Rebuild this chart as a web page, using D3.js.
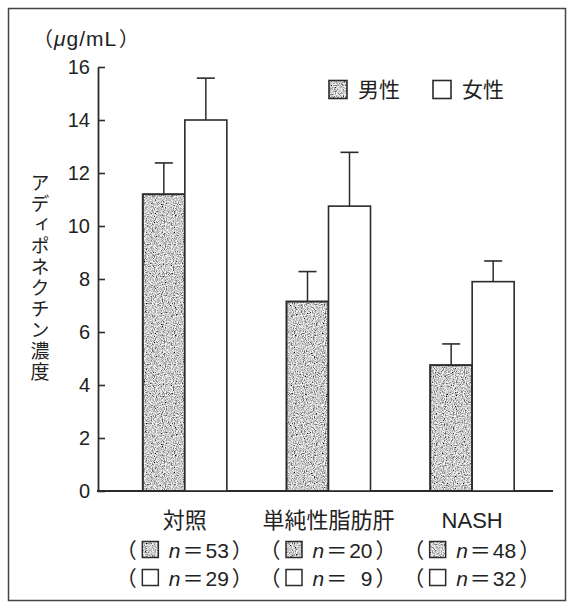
<!DOCTYPE html>
<html>
<head>
<meta charset="utf-8">
<script src="https://cdn.jsdelivr.net/npm/d3@7"></script>
<style>
  html, body { margin: 0; padding: 0; background: #fff; }
  svg { display: block; }
  text { font-family: "Liberation Sans", Arial, "Noto Sans CJK JP", sans-serif; fill: #222; }
  .cjk { font-family: "Noto Sans CJK JP", sans-serif; }
</style>
</head>
<body>
<div id="chart"></div>
<script>
// values (upper error bar = mean + SD)
const categories = ["対照", "単純性脂肪肝", "NASH"];
const sexes = ["男性", "女性"];
const maleMean = [11.2, 7.15, 4.75];
const maleSD = [1.18, 1.13, 0.8];
const femaleMean = [14.0, 10.75, 7.9];
const femaleSD = [1.58, 2.03, 0.78];
const maleN = [53, 20, 48];
const femaleN = [29, 9, 32];
const yTicks = [0, 2, 4, 6, 8, 10, 12, 14, 16];

const width = 567, height = 604;
const ink = "#2b2b2b";

const svg = d3.select("#chart").append("svg")
  .attr("width", width)
  .attr("height", height);

// stipple texture for the male bars
const defs = svg.append("defs");
const noise = defs.append("filter")
  .attr("id", "grain")
  .attr("x", 0).attr("y", 0).attr("width", "100%").attr("height", "100%");
noise.append("feTurbulence")
  .attr("type", "fractalNoise")
  .attr("baseFrequency", 0.9)
  .attr("numOctaves", 2)
  .attr("seed", 3);
noise.append("feColorMatrix")
  .attr("type", "matrix")
  .attr("values", "2.0 0 0 0 -0.4  2.0 0 0 0 -0.4  2.0 0 0 0 -0.4  0 0 0 0 1");
const pat = defs.append("pattern")
  .attr("id", "stipple")
  .attr("patternUnits", "userSpaceOnUse")
  .attr("width", 120).attr("height", 120);
pat.append("rect")
  .attr("width", 120).attr("height", 120)
  .attr("fill", "#999")
  .attr("filter", "url(#grain)");

// outer frame
svg.append("rect")
  .attr("x", 8.5).attr("y", 8.5)
  .attr("width", 557).attr("height", 592)
  .attr("fill", "none")
  .attr("stroke", "#444")
  .attr("stroke-width", 1.5);

const y = d3.scaleLinear().domain([0, 16]).range([491, 67]);
const x = d3.scaleBand().domain(categories).range([113, 544]).padding(0);
const xSex = d3.scaleBand().domain(sexes).range([0, x.bandwidth()])
  .paddingInner(0).paddingOuter(0.71);

// y axis, ticks pointing inward
const yAxis = svg.append("g")
  .attr("transform", "translate(98,0)")
  .call(d3.axisLeft(y).tickValues(yTicks).tickSize(-7).tickSizeOuter(0).tickPadding(8));
yAxis.select(".domain").attr("stroke", ink).attr("stroke-width", 1.8);
yAxis.selectAll(".tick line").attr("stroke", ink).attr("stroke-width", 1.6);
yAxis.selectAll(".tick text")
  .attr("fill", "#222")
  .style("font-size", "20px")
  .style("font-family", "'Liberation Sans', Arial, sans-serif");

// baseline
svg.append("line")
  .attr("x1", 97).attr("x2", 553)
  .attr("y1", y(0)).attr("y2", y(0))
  .attr("stroke", ink).attr("stroke-width", 2.2);

// unit label
svg.append("text").attr("class", "cjk")
  .attr("x", 53).attr("y", 46)
  .attr("text-anchor", "end")
  .style("font-size", "20px")
  .text("（");
const unit = svg.append("text")
  .attr("x", 54).attr("y", 46)
  .style("font-size", "21px")
  .style("letter-spacing", "1px");
unit.append("tspan").style("font-style", "italic").text("μ");
unit.append("tspan").text("g/mL");
svg.append("text").attr("class", "cjk")
  .attr("x", 119).attr("y", 46)
  .style("font-size", "20px")
  .text("）");

// y axis title, vertical
svg.append("text")
  .attr("x", 40).attr("y", 173)
  .style("writing-mode", "vertical-rl")
  .style("font-size", "19px")
  .style("letter-spacing", "2px")
  .style("font-family", "'Noto Sans CJK JP', sans-serif")
  .text("アディポネクチン濃度");

// bars
const rows = categories.map((c, i) => [
  { cat: c, sex: "男性", mean: maleMean[i], sd: maleSD[i] },
  { cat: c, sex: "女性", mean: femaleMean[i], sd: femaleSD[i] }
]).flat();

const bars = svg.append("g");
bars.selectAll("line.err")
  .data(rows)
  .enter()
  .append("line")
  .attr("class", "err")
  .attr("x1", d => x(d.cat) + xSex(d.sex) + xSex.bandwidth() / 2)
  .attr("x2", d => x(d.cat) + xSex(d.sex) + xSex.bandwidth() / 2)
  .attr("y1", d => y(d.mean))
  .attr("y2", d => y(d.mean + d.sd))
  .attr("stroke", ink).attr("stroke-width", 1.5);
bars.selectAll("line.cap")
  .data(rows)
  .enter()
  .append("line")
  .attr("class", "cap")
  .attr("x1", d => x(d.cat) + xSex(d.sex) + xSex.bandwidth() / 2 - 9)
  .attr("x2", d => x(d.cat) + xSex(d.sex) + xSex.bandwidth() / 2 + 9)
  .attr("y1", d => y(d.mean + d.sd))
  .attr("y2", d => y(d.mean + d.sd))
  .attr("stroke", ink).attr("stroke-width", 1.6);
bars.selectAll("rect")
  .data(rows)
  .enter()
  .append("rect")
  .attr("x", d => x(d.cat) + xSex(d.sex))
  .attr("y", d => y(d.mean))
  .attr("width", xSex.bandwidth())
  .attr("height", d => y(0) - y(d.mean))
  .attr("fill", d => d.sex === "男性" ? "url(#stipple)" : "#fff")
  .attr("stroke", ink)
  .attr("stroke-width", d => d.sex === "男性" ? 2 : 1.6);

// legend
const legend = svg.append("g");
const legX = [329, 433];
sexes.forEach((s, i) => {
  legend.append("rect")
    .attr("x", legX[i]).attr("y", 80.5)
    .attr("width", 18).attr("height", 18)
    .attr("fill", i === 0 ? "url(#stipple)" : "#fff")
    .attr("stroke", ink).attr("stroke-width", 1.6);
  legend.append("text")
    .attr("class", "cjk")
    .attr("x", legX[i] + 29).attr("y", 97)
    .style("font-size", "21px")
    .text(s);
});

// category labels with group sizes
const labels = svg.append("g");
categories.forEach((c, i) => {
  const cx = x(c) + x.bandwidth() / 2;
  labels.append("text")
    .attr("x", cx).attr("y", 528)
    .attr("text-anchor", "middle")
    .style("font-size", "22px")
    .text(c);

  [[maleN[i], 0], [femaleN[i], 1]].forEach(([n, k]) => {
    const by = 558 + k * 28;
    const row = labels.append("g");
    row.append("text").attr("class", "cjk")
      .attr("x", cx - 48).attr("y", by)
      .attr("text-anchor", "end")
      .style("font-size", "21px")
      .text("（");
    row.append("rect")
      .attr("x", cx - 42.5).attr("y", by - 16.5)
      .attr("width", 16).attr("height", 16)
      .attr("fill", k === 0 ? "url(#stipple)" : "#fff")
      .attr("stroke", ink).attr("stroke-width", 1.5);
    const t = row.append("text")
      .attr("x", cx - 16).attr("y", by)
      .style("font-size", "21px");
    t.append("tspan").style("font-style", "italic").text("n");
    t.append("tspan").attr("dx", 2)
      .style("font-family", "'Noto Sans CJK JP', sans-serif")
      .text("＝");
    t.append("tspan").attr("dx", 2)
      .text(String(n).padStart(2, "\u2007"));
    row.append("text").attr("class", "cjk")
      .attr("x", cx + 47).attr("y", by)
      .style("font-size", "21px")
      .text("）");
  });
});
</script>
</body>
</html>
